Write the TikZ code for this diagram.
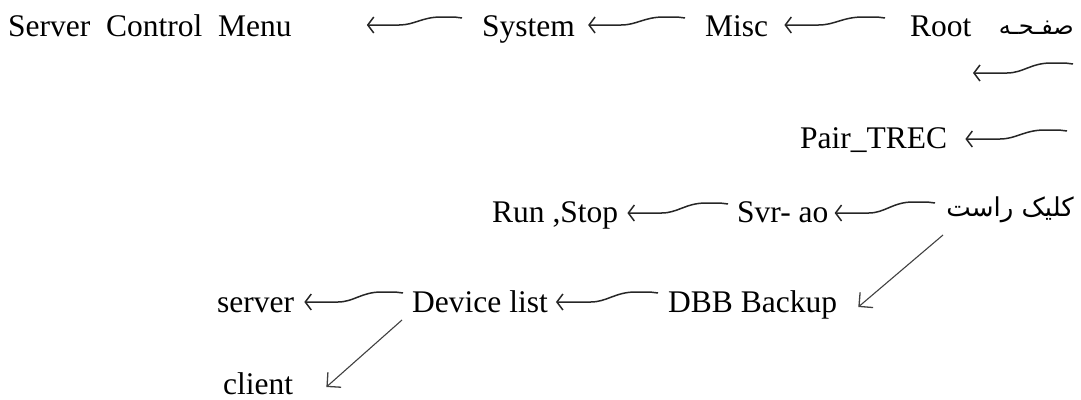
\documentclass[tikz,border=0pt]{standalone}
\usepackage{fontspec}
\setmainfont{Liberation Serif}
\newfontfamily\arabicfont[Script=Arabic]{DejaVu Sans}
\TeXXeTstate=1
\usetikzlibrary{arrows.meta,calc}

\tikzset{
  lbl/.style={inner sep=0pt, font=\fontsize{31.5}{36}\selectfont},
  ar/.style={inner sep=0pt, font=\arabicfont\fontsize{26}{30}\selectfont},
  % wavy left-pointing connector: flat near the tip, raised near the tail
  wave/.style={to path={
    let \p1=(\tikztostart), \p2=(\tikztotarget),
        \p3=($(\tikztostart)!0.08!(\tikztotarget)$),
        \p4=($(\tikztostart)!0.22!(\tikztotarget)$),
        \p5=($(\tikztostart)!0.42!(\tikztotarget)$),
        \p6=($(\tikztostart)!0.50!(\tikztotarget)$),
        \p7=($(\tikztostart)!0.66!(\tikztotarget)$)
    in (\p1) -- (\x3,\y1+1pt) -- (\x4,\y1+1pt)
       .. controls (\x5,\y1+1pt) and (\x6,\y2) .. (\x7,\y2) -- (\p2)}},
  harrow/.style={draw=black!85, line width=1.5pt,
    -{Straight Barb[length=6pt,width=16pt,line width=1.5pt]}, wave},
  darrow/.style={draw=black!75, line width=1.1pt,
    -{Straight Barb[length=10pt,width=20pt,line width=1.3pt]}}
}

\begin{document}
\begin{tikzpicture}[x=1pt,y=-1pt]
\useasboundingbox (0,0) rectangle (1081,399);

% first line
\node[lbl, anchor=base west] (scm)  at (8,36)   {Server\ \ Control\ \ Menu};
\node[lbl, anchor=base west] (sys)  at (482,36) {System};
\node[lbl, anchor=base west] (misc) at (705,36) {Misc};
\node[lbl, anchor=base west] (root) at (910,36) {Root};
\node[ar,  anchor=base east, font=\arabicfont\fontsize{24}{28}\selectfont] (page) at (1074,34) {\beginR صفـحـه\endR};

% free connectors on the right edge
\coordinate (t2a) at (1073,64);
\coordinate (t2b) at (973,73);
\coordinate (t3a) at (1067,131);

\node[lbl, anchor=base west] (pair) at (800,148) {Pair\_TREC};

% right-click line
\node[lbl, anchor=base west] (run)  at (492,222) {Run ,Stop};
\node[lbl, anchor=base west] (svr)  at (737,222) {Svr- ao};
\node[ar,  anchor=base east] (clk)  at (1074,216) {\beginR كليک راست\endR};

% backup line
\node[lbl, anchor=base west] (srv)  at (217,312) {server};
\node[lbl, anchor=base west] (dev)  at (412,312) {Device list};
\node[lbl, anchor=base west] (dbb)  at (668,312) {DBB Backup};
\node[lbl, anchor=base west, text depth=0pt] (cli) at (223,394) {client};

% horizontal connectors
\draw[harrow] ([shift={(-20pt,18pt)}]sys.base west)  to ([shift={(75pt,11pt)}]scm.base east);
\draw[harrow] ([shift={(-20pt,18pt)}]misc.base west) to ([shift={(13pt,11pt)}]sys.base east);
\draw[harrow] ([shift={(-25pt,18pt)}]root.base west) to ([shift={(16pt,11pt)}]misc.base east);
\draw[harrow] (t2a) to (t2b);
\draw[harrow] (t3a) to ([shift={(18pt,9pt)}]pair.base east);
\draw[harrow] ([shift={(-9pt,18pt)}]svr.base west)   to ([shift={(9pt,9pt)}]run.base east);
\draw[harrow] ([shift={(-139pt,13pt)}]clk.base east) to ([shift={(6pt,9pt)}]svr.base east);
\draw[harrow] ([shift={(-9pt,19pt)}]dev.base west)   to ([shift={(10pt,10pt)}]srv.base east);
\draw[harrow] ([shift={(-10pt,19pt)}]dbb.base west)  to ([shift={(8pt,10pt)}]dev.base east);

% diagonal connectors
\draw[darrow] ([shift={(-131pt,-19pt)}]clk.base east) -- ([shift={(21pt,5pt)}]dbb.base east);
\draw[darrow] ([shift={(-10pt,-8pt)}]dev.base west) -- ([shift={(33pt,7pt)}]cli.base east);
\end{tikzpicture}
\end{document}
